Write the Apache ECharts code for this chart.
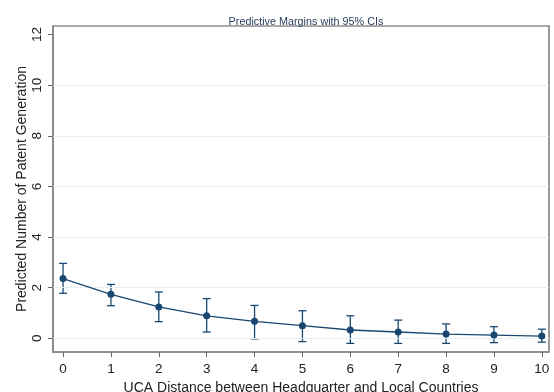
<!DOCTYPE html>
<html><head><meta charset="utf-8">
<script src="https://cdn.jsdelivr.net/npm/echarts@6/dist/echarts.min.js"></script>
<style>html,body{margin:0;padding:0;background:#fff}#c{width:554px;height:392px}</style>
</head><body><div id="c"></div>
<script>
const xValues = [0,1,2,3,4,5,6,7,8,9,10];
const margins = [2.36,1.74,1.24,0.89,0.67,0.50,0.33,0.25,0.17,0.13,0.09];
const ciLower = [1.78,1.29,0.66,0.25,-0.02,-0.13,-0.20,-0.20,-0.20,-0.17,-0.15];
const ciUpper = [2.96,2.13,1.83,1.57,1.30,1.09,0.89,0.72,0.57,0.46,0.36];
const yTicks = [0,2,4,6,8,10,12];
const xTicks = [0,1,2,3,4,5,6,7,8,9,10];
const gridValues = [0,2,4,6,8,10];
const yTitle = 'Predicted Number of Patent Generation';

const navy = '#1a476f';
const font = 'Liberation Sans, Arial, sans-serif';
const chart = echarts.init(document.getElementById('c'), null, {renderer:'canvas'});
chart.setOption({
  animation:false,
  title:{text:'Predictive Margins with 95% CIs', left:301, top:12, textAlign:'center',
    textStyle:{fontSize:10.8, fontWeight:'normal', color:'#2a3f5f', fontFamily:font}},
  graphic:[{type:'text', x:22, y:189, rotation:Math.PI/2,
    style:{text:yTitle, fontSize:14, fontFamily:font, fill:'#222', align:'center', verticalAlign:'middle'}}],
  grid:{left:53, right:5, top:26, bottom:40, show:true, borderColor:'#555', borderWidth:1.2,
    backgroundColor:'#fff', outerBoundsMode:'none', containLabel:false},
  xAxis:{type:'value', min:-0.21, max:10.15,
    name:'UCA Distance between Headquarter and Local Countries', nameLocation:'middle', nameGap:27,
    nameTextStyle:{fontSize:14, color:'#222', fontFamily:font},
    axisLine:{show:true, onZero:false, lineStyle:{color:'#888', width:1.5}},
    axisTick:{show:true, customValues:xTicks, length:5, lineStyle:{color:'#666'}},
    axisLabel:{customValues:xTicks, fontSize:13.5, color:'#222', fontFamily:font, margin:10},
    splitLine:{show:false}},
  yAxis:{type:'value', min:-0.54, max:12.34,
    axisLine:{show:true, onZero:false, lineStyle:{color:'#888', width:1.5}},
    axisTick:{show:true, customValues:yTicks, length:5, lineStyle:{color:'#666'}},
    axisLabel:{customValues:yTicks, rotate:90, fontSize:13.5, color:'#222', fontFamily:font, margin:9},
    splitLine:{show:false}},
  series:[
    {type:'line', data:xValues.map((x,i)=>[x,margins[i]]), symbol:'circle', symbolSize:7,
      itemStyle:{color:navy}, lineStyle:{color:navy, width:1.3}, z:5,
      markLine:{silent:true, symbol:'none', label:{show:false},
        lineStyle:{color:'#e6eff1', width:1, type:'solid'},
        data:gridValues.map(v=>({yAxis:v}))}},
    {type:'custom', z:4,
      data:xValues.map((x,i)=>[x,ciLower[i],ciUpper[i]]),
      renderItem:function(params, api){
        const x=api.value(0);
        const lo=api.coord([x,api.value(1)]);
        const hi=api.coord([x,api.value(2)]);
        const w=4;
        const st={stroke:navy, lineWidth:1.3};
        return {type:'group', children:[
          {type:'line', shape:{x1:lo[0],y1:lo[1],x2:hi[0],y2:hi[1]}, style:st},
          {type:'line', shape:{x1:lo[0]-w,y1:lo[1],x2:lo[0]+w,y2:lo[1]}, style:st},
          {type:'line', shape:{x1:hi[0]-w,y1:hi[1],x2:hi[0]+w,y2:hi[1]}, style:st}
        ]};
      }}
  ]
});
</script></body></html>
